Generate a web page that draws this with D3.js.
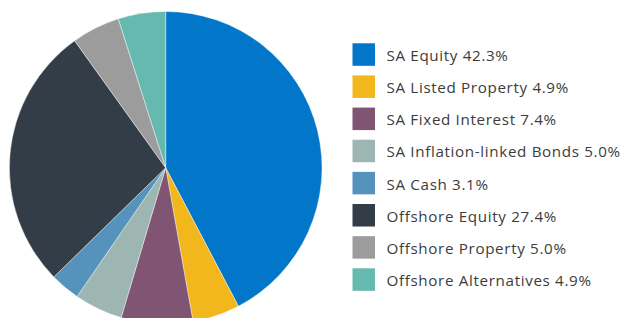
<!DOCTYPE html>
<html>
<head>
<meta charset="utf-8">
<script src="https://cdn.jsdelivr.net/npm/d3@7"></script>
<style>
  html, body { margin: 0; padding: 0; background: #fff; }
  svg { display: block; }
</style>
</head>
<body>
<div id="chart"></div>
<script>
// Asset allocation data
const categories = ["SA Equity", "SA Listed Property", "SA Fixed Interest", "SA Inflation-linked Bonds",
                    "SA Cash", "Offshore Equity", "Offshore Property", "Offshore Alternatives"];
const values = [42.3, 4.9, 7.4, 5.0, 3.1, 27.4, 5.0, 4.9];
const colors = ["#0277c9", "#f3b71e", "#805473", "#9db6b2", "#5593bd", "#333d47", "#9c9c9c", "#66b9ae"];

const width = 622, height = 318;
const cx = 165.7, cy = 167.8, radius = 156.3;

const svg = d3.select("#chart").append("svg")
    .attr("width", width)
    .attr("height", height);

const data = categories.map((c, i) => ({ name: c, value: values[i], color: colors[i] }));

// pie, clockwise from 12 o'clock in data order
const pie = d3.pie().sort(null).value(d => d.value);
const arc = d3.arc().innerRadius(0).outerRadius(radius);

const g = svg.append("g").attr("transform", `translate(${cx},${cy})`);
g.selectAll("path")
    .data(pie(data))
    .join("path")
    .attr("d", arc)
    .attr("fill", d => d.data.color)
    .attr("stroke", "#fff")
    .attr("stroke-width", 0.4);

// LEGEND
const legendY = d3.scalePoint()
    .domain(categories)
    .range([54.5, 279.5]);

const legend = svg.append("g");
const row = legend.selectAll("g.row")
    .data(data)
    .join("g")
    .attr("class", "row")
    .attr("transform", d => `translate(352.5, ${legendY(d.name)})`);

row.append("rect")
    .attr("x", 0)
    .attr("y", -11.2)
    .attr("width", 22.5)
    .attr("height", 22.5)
    .attr("fill", d => d.color);

row.append("text")
    .attr("x", 34)
    .attr("y", 6.5)
    .style("font-family", "'Open Sans', sans-serif")
    .style("font-size", "15.2px")
    .style("letter-spacing", "0.65px")
    .style("fill", "#3c3c3c")
    .text(d => `${d.name} ${d.value.toFixed(1)}%`);
</script>
</body>
</html>
